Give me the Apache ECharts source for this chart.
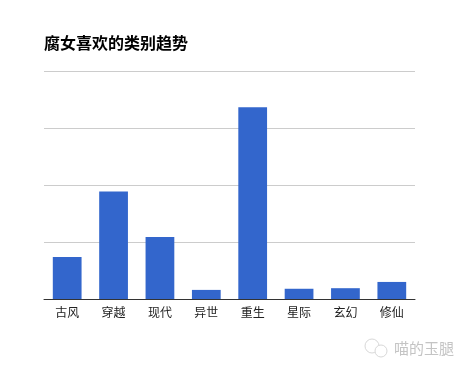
<!DOCTYPE html>
<html><head><meta charset="utf-8">
<style>html,body{margin:0;padding:0;background:#fff}#c{width:469px;height:371px}</style>
<script src="https://cdn.jsdelivr.net/npm/echarts@6/dist/echarts.min.js"></script></head>
<body><div id="c"></div>
<script>
const titleText = '腐女喜欢的类别趋势';
const watermark = '喵的玉腿';
const categories = ['古风','穿越','现代','异世','重生','星际','玄幻','修仙'];
const values = [74,189,109,16,337,18,19,30];
const font = '"Noto Sans CJK SC","Liberation Sans",sans-serif';
const chart = echarts.init(document.getElementById('c'), null, {renderer:'canvas'});
chart.setOption({
  animation:false,
  backgroundColor:'#fff',
  title:{text:titleText,left:44,top:35,padding:0,textStyle:{fontFamily:font,fontSize:16,fontWeight:'bold',color:'#000'}},
  grid:{left:44,right:54,top:71.5,bottom:72,containLabel:false},
  xAxis:{type:'category',data:categories,
    axisTick:{show:false},
    axisLine:{lineStyle:{color:'#333',width:1}},
    axisLabel:{fontFamily:font,fontSize:12,color:'#222',margin:7}},
  yAxis:{type:'value',min:0,max:400,interval:100,
    axisLabel:{show:false},axisLine:{show:false},axisTick:{show:false},
    splitLine:{lineStyle:{color:'#ccc',width:1}}},
  series:[{type:'bar',data:values,barWidth:'62%',itemStyle:{color:'#3366cc'}}],
  graphic:[
    {type:'circle',shape:{cx:372,cy:346,r:7},style:{fill:'#fff',stroke:'#d8d8d8',lineWidth:1}},
    {type:'circle',shape:{cx:381,cy:351,r:6},style:{fill:'#fff',stroke:'#d8d8d8',lineWidth:1}},
    {type:'text',left:394,top:341,style:{text:watermark,fontFamily:font,fontSize:15,fill:'#c4c4c4'}}
  ]
});
</script></body></html>
